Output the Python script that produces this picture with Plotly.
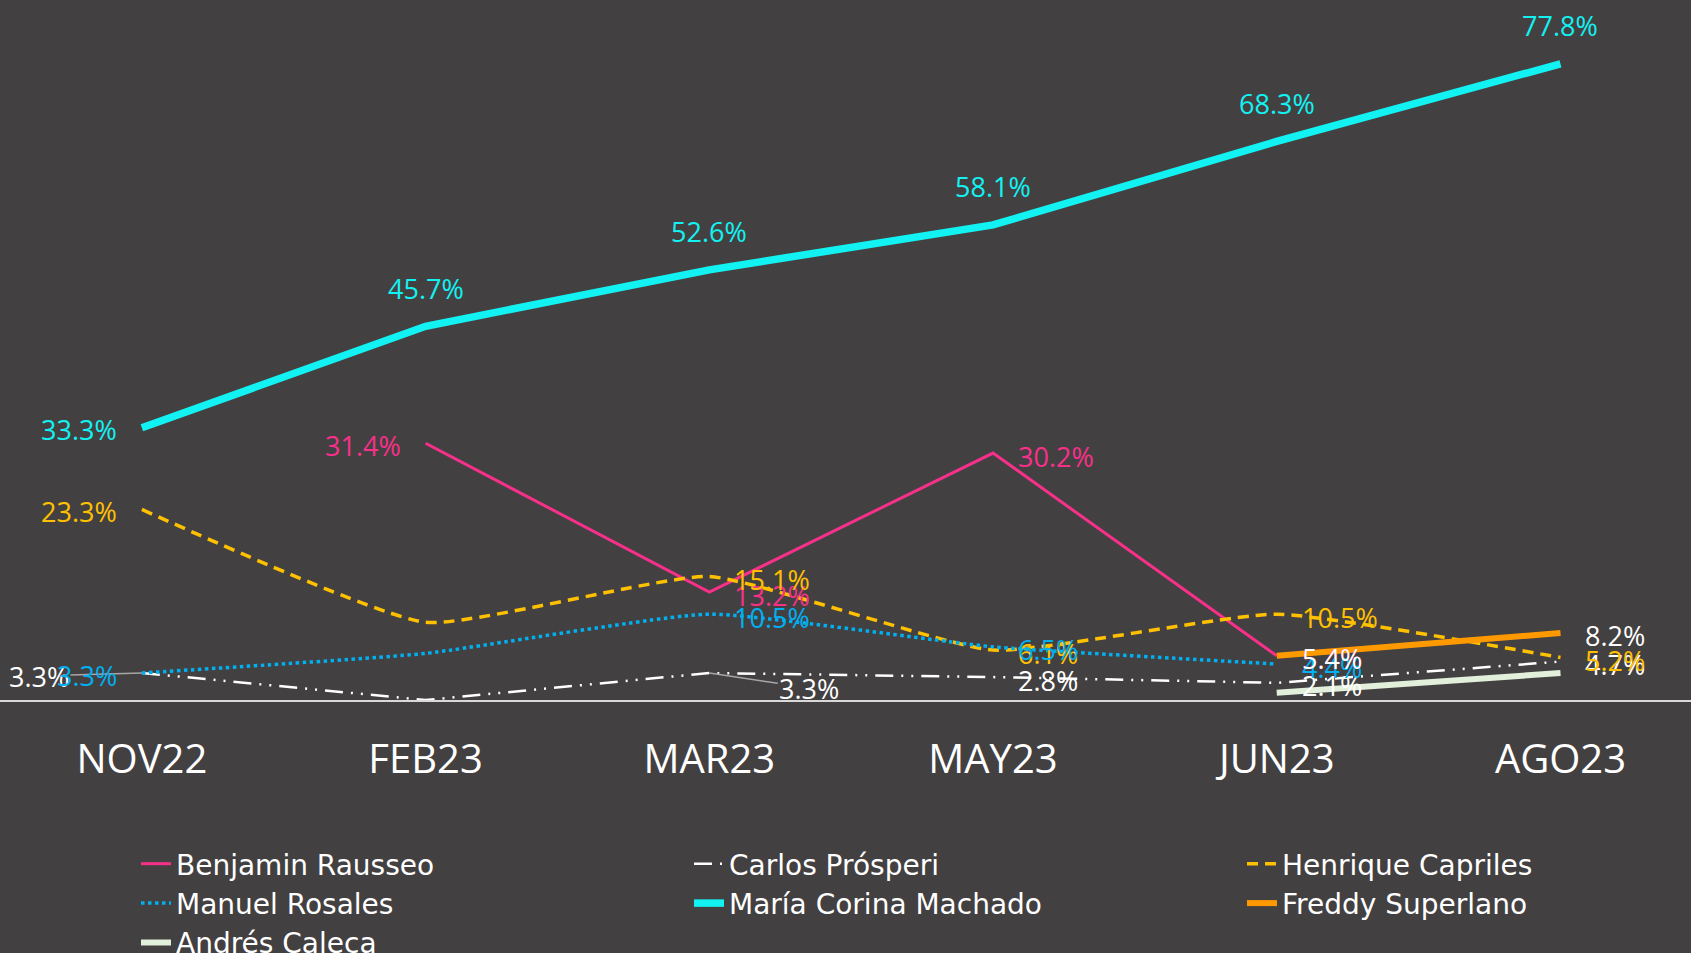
import plotly.graph_objects as go

cats = ["NOV22", "FEB23", "MAR23", "MAY23", "JUN23", "AGO23"]
rausseo = [None, 31.4, 13.2, 30.2, 5.4, None]
prosperi = [3.3, 0.0, 3.3, 2.8, 2.1, 4.7]
capriles = [23.3, 9.5, 15.1, 6.1, 10.5, 5.2]
rosales = [3.3, 5.7, 10.5, 6.5, 4.4, None]
machado = [33.3, 45.7, 52.6, 58.1, 68.3, 77.8]
superlano = [None, None, None, None, 5.4, 8.2]
caleca = [None, None, None, None, 0.9, 3.3]

BG = "#434041"
FONT = "Open Sans"

series = [
    dict(name="Benjamin Rausseo", y=rausseo, color="#F7308A", width=3, dash="solid", shape="linear",
         labels=[None, "L", "R", "R", "R", None], lcolor="#F7308A"),
    dict(name="Carlos Prósperi", y=prosperi, color="#FFFFFF", width=2.5, dash="18px,8px,2px,8px,2px,8px", shape="linear",
         labels=[("A", -103, 3), None, ("A", 100, 15), "R", "R", "R"], lcolor="#FFFFFF"),
    dict(name="Henrique Capriles", y=capriles, color="#FFC000", width=3.5, dash="11px,7px", shape="spline",
         labels=["L", None, "R", "R", "R", "R"], lcolor="#FFC000"),
    dict(name="Manuel Rosales", y=rosales, color="#00B0F0", width=3.5, dash="dot", shape="spline",
         labels=["L", None, "R", "R", "R", None], lcolor="#00B0F0"),
    dict(name="María Corina Machado", y=machado, color="#12F2F2", width=7.5, dash="solid", shape="linear",
         labels=["L", "T", "T", "T", "T", "T"], lcolor="#12F2F2"),
    dict(name="Freddy Superlano", y=superlano, color="#FF9900", width=6, dash="solid", shape="linear",
         labels=[None, None, None, None, "R", "R"], lcolor="#FFFFFF"),
    dict(name="Andrés Caleca", y=caleca, color="#E2EFDA", width=6, dash="solid", shape="linear",
         labels=[None] * 6, lcolor="#E2EFDA"),
]

fig = go.Figure()
annotations = []
for s in series:
    fig.add_trace(go.Scatter(
        x=cats, y=s["y"], name=s["name"], mode="lines",
        line=dict(color=s["color"], width=s["width"], dash=s["dash"], shape=s["shape"], smoothing=0.45),
        connectgaps=False, hoverinfo="skip",
    ))
    for i, (c, v) in enumerate(zip(cats, s["y"])):
        pos = s["labels"][i]
        if pos is None or v is None:
            continue
        txt = f"{v:.1f}%"
        base = dict(x=c, y=v, text=txt, font=dict(family=FONT, size=27, color=s["lcolor"]))
        if isinstance(pos, tuple):
            _, ax, ay = pos
            annotations.append(dict(**base, showarrow=True, arrowhead=0, arrowwidth=1.5,
                                    arrowcolor="#A6A6A6", ax=ax, ay=ay, standoff=0))
        elif pos == "L":
            annotations.append(dict(**base, showarrow=False, xanchor="right", xshift=-23, yshift=-2))
        elif pos == "R":
            annotations.append(dict(**base, showarrow=False, xanchor="left", xshift=23, yshift=-3))
        elif pos == "T":
            annotations.append(dict(**base, showarrow=False, xanchor="center", yshift=38))

fig.update_layout(
    width=1691, height=953,
    paper_bgcolor=BG, plot_bgcolor=BG,
    margin=dict(l=0, r=0, t=0, b=253, autoexpand=False),
    showlegend=True,
    legend=dict(orientation="h", xref="container", yref="container",
                x=136 / 1691, y=1 - 839 / 953, xanchor="left", yanchor="top",
                font=dict(family="DejaVu Sans", size=28, color="#FFFFFF"),
                entrywidth=508, entrywidthmode="pixels", bgcolor="rgba(0,0,0,0)"),
    annotations=annotations,
    xaxis=dict(type="category", range=[-0.5, 5.46], showgrid=False, zeroline=False,
               showline=True, linecolor="#D9D9D9", linewidth=2,
               ticks="outside", ticklen=23, tickcolor=BG,
               tickfont=dict(family=FONT, size=40, color="#FFFFFF")),
    yaxis=dict(range=[0, 85.6], showgrid=False, zeroline=False, showticklabels=False, showline=False),
)

fig.write_html("out.html", config={"displayModeBar": False},
               post_script="document.body.style.margin='0';")
